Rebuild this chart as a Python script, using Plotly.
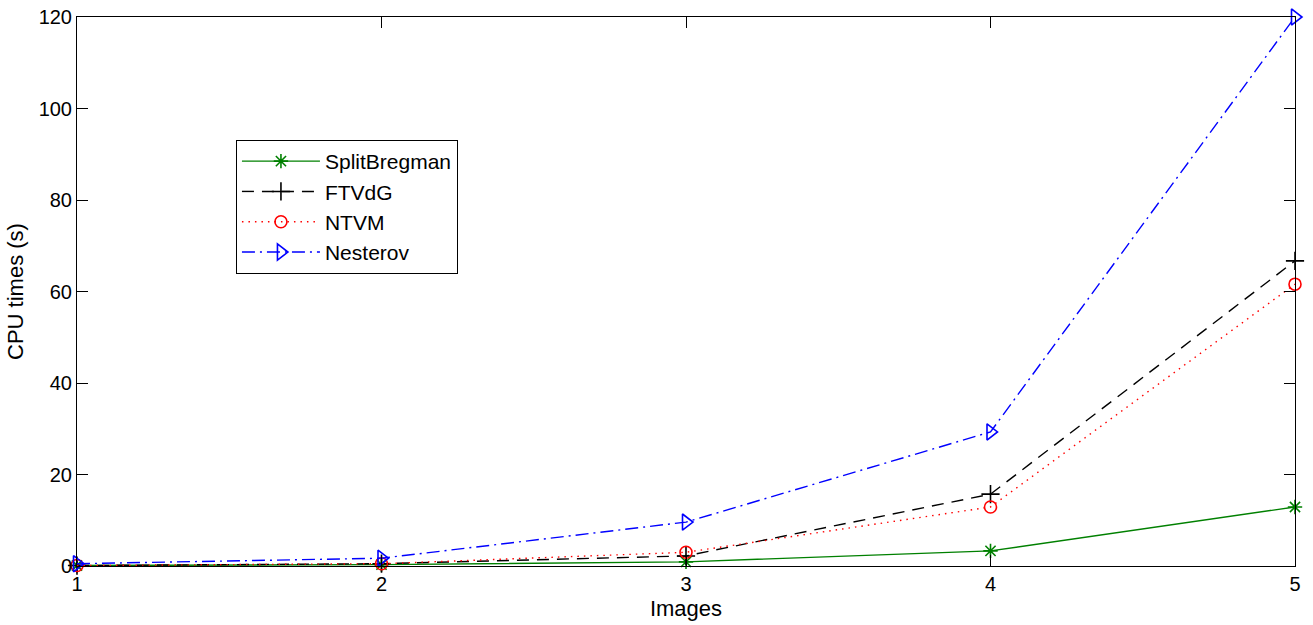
import plotly.graph_objects as go

images = [1, 2, 3, 4, 5]
split_bregman = [0.1, 0.3, 0.9, 3.3, 12.9]
ftvdg = [0.1, 0.5, 2.2, 15.7, 66.7]
ntvm = [0.1, 0.5, 3.0, 12.9, 61.6]
nesterov = [0.5, 1.7, 9.6, 29.3, 120.0]

series = [
    ("SplitBregman", split_bregman, "#008000", "solid", "asterisk-open", 12),
    ("FTVdG", ftvdg, "#000000", "12px,8px", "cross-thin-open", 13),
    ("NTVM", ntvm, "#ff0000", "1.5px,5px", "circle-open", 12),
    ("Nesterov", nesterov, "#0000ff", "13px,5px,2px,5px", "triangle-right-open", 14),
]

fig = go.Figure()
for name, vals, color, dash, sym, msize in series:
    fig.add_trace(go.Scatter(
        x=images, y=vals, name=name, mode="lines+markers",
        line=dict(color=color, dash=dash, width=1.4),
        marker=dict(symbol=sym, size=msize, color=color, line=dict(color=color, width=1.6)),
        cliponaxis=False,
    ))

font_family = "Liberation Sans, Arial, Helvetica, sans-serif"
axis_common = dict(
    showgrid=False, zeroline=False, showline=True, linecolor="black", linewidth=1,
    mirror="ticks", ticks="inside", ticklen=11, tickcolor="black", automargin=False,
    tickfont=dict(family=font_family, size=20, color="black"),
)

fig.update_layout(
    width=1313, height=625,
    margin=dict(l=77, r=18, t=17, b=59),
    paper_bgcolor="white", plot_bgcolor="white",
    font=dict(family=font_family, color="black"),
    xaxis=dict(range=[1, 5], tickvals=images, ticktext=[str(i) for i in images],
               title=dict(text="Images", font=dict(size=22), standoff=6), **axis_common),
    yaxis=dict(range=[0, 120], tickvals=[0, 20, 40, 60, 80, 100, 120],
               title=dict(text="CPU times (s)", font=dict(size=22), standoff=8), **axis_common),
    legend=dict(x=0.1305, y=0.776, xanchor="left", yanchor="top",
                bgcolor="white", bordercolor="black", borderwidth=1,
                font=dict(size=21), itemwidth=78, tracegroupgap=2),
    showlegend=True,
)

fig.write_html("out.html", config={"displayModeBar": False},
               post_script="document.body.style.margin='0';document.body.style.overflow='hidden';")
